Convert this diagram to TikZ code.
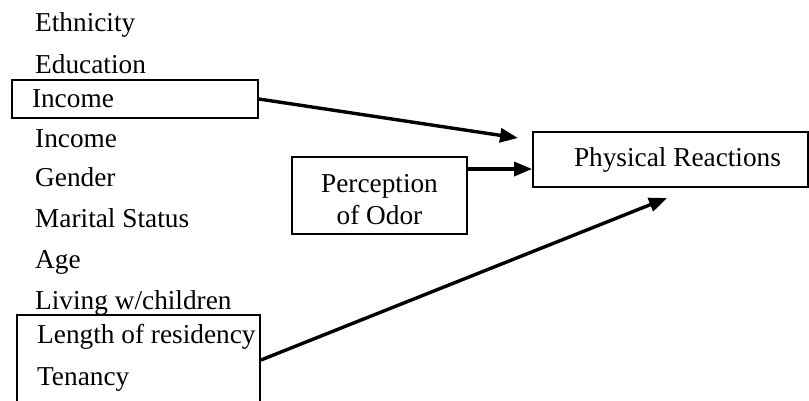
\documentclass[tikz,border=0pt]{standalone}
\usepackage{fontspec}
\setmainfont{Liberation Serif}
\usetikzlibrary{arrows.meta}
\begin{document}
\begin{tikzpicture}[x=1pt,y=-1pt,
  every node/.style={font=\fontsize{27.3}{32}\selectfont},
  item/.style={anchor=base west, inner sep=0pt},
  frame/.style={draw, line width=1.8pt, rectangle},
  link/.style={line width=3.4pt, -{Triangle[length=18pt,width=14pt]}}]
\useasboundingbox (0,0) rectangle (809,400);

% list of background variables
\node[item] (eth) at (35,31) {Ethnicity};
\node[item] (edu) at (35,73) {Education};
\node[frame, minimum width=246pt, minimum height=38pt, text width=206pt,
      inner xsep=20pt, inner ysep=0pt, align=left] (inc) at (135,99) {Income};
\node[item] (inc2) at (35,147) {Income};
\node[item] (gen) at (35,186) {Gender};
\node[item] (mar) at (35,227) {Marital Status};
\node[item] (age) at (35,268) {Age};
\node[item] (liv) at (35,309) {Living w/children};
\node[frame, minimum width=243pt, minimum height=90pt, inner sep=0pt] (tenure) at (138.5,360) {};
\node[item] (len) at (37,343) {Length of residency};
\node[item] (ten) at (37,385) {Tenancy};

% mediator and outcome
\node[frame, minimum width=175pt, minimum height=77pt, align=center, inner sep=0pt]
  (perc) at (379.5,195.5) {\rule{0pt}{27pt}Perception\\of Odor};
\node[frame, minimum width=275pt, minimum height=55pt, inner sep=0pt] (phys) at (670.5,159.5) {\hspace*{14pt}Physical Reactions};

% connectors
\coordinate (incend) at (518,138);
\coordinate (tenend) at (667,198);
\coordinate (percout) at ([yshift=26.5pt]perc.east);
\draw[link] (inc.east) -- (incend);
\draw[link] (percout) -- (percout -| phys.west);
\draw[link] (tenure.east) -- (tenend);
\end{tikzpicture}
\end{document}
